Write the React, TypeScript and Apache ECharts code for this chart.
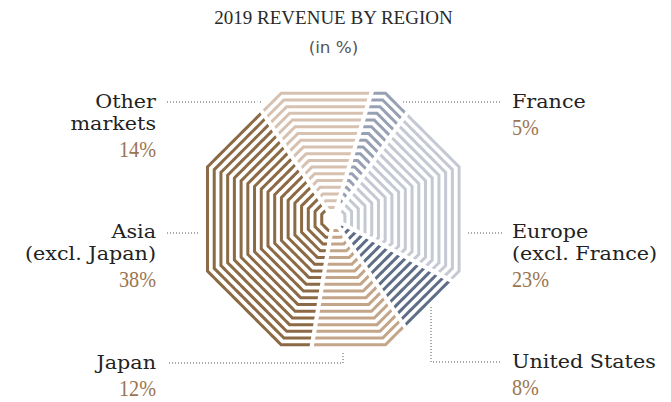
import React, { useEffect, useRef } from "react";
import * as echarts from "echarts";

// ---- data ----
const regionNames = [
  "Other markets",
  "France",
  "Europe (excl. France)",
  "United States",
  "Japan",
  "Asia (excl. Japan)",
];
const labelLines = [
  ["Other", "markets"],
  ["France"],
  ["Europe", "(excl. France)"],
  ["United States"],
  ["Japan"],
  ["Asia", "(excl. Japan)"],
];
const shares = [14, 5, 23, 8, 12, 38];
const titleText = "2019 REVENUE BY REGION";
const subtitleText = "(in %)";

// ---- styles / layout ----
const colors = ["#d7c2b1", "#98a1b4", "#c5c9d4", "#5f6e87", "#c3a589", "#8b6a45"];
const pctColor = "#9b7651";
const textColor = "#222222";
const CENTER = [333.3, 219];
const OUTER = 125.8;
const STEP = 6.72;
const RINGS = 18;
const STRIPE_W = 3;
const GAP_W = 4.2;

const labelLayout = [
  { x: 156, align: "right", y: 102 },
  { x: 512, align: "left", y: 102 },
  { x: 512, align: "left", y: 232 },
  { x: 512, align: "left", y: 362 },
  { x: 156, align: "right", y: 363 },
  { x: 156, align: "right", y: 232 },
];
const leaderLines = [
  [[167, 102], [262, 102]],
  [[403, 102], [502, 102]],
  [[468, 233], [502, 233]],
  [[431, 307], [431, 362], [502, 362]],
  [[343, 353], [343, 363], [167, 363]],
  [[167, 233], [198, 233]],
];

const starts: number[] = [];
shares.reduce((acc, v) => {
  starts.push(acc);
  return acc + v;
}, 0);

const COS225 = Math.cos(Math.PI / 8);

function octPoint(c: number[], d: number[], A: number) {
  const ax = Math.abs(d[0]);
  const ay = Math.abs(d[1]);
  const m = Math.max(ax, ay, (ax + ay) / Math.SQRT2);
  const r = A / m;
  return [c[0] + r * d[0], c[1] + r * d[1]];
}
function faceOf(d: number[]) {
  let best = -Infinity;
  let bi = 0;
  for (let i = 0; i < 8; i++) {
    const a = (i * Math.PI) / 4;
    const dot = d[0] * Math.cos(a) + d[1] * Math.sin(a);
    if (dot > best) {
      best = dot;
      bi = i;
    }
  }
  return bi;
}

function textEl(text: string, x: number, y: number, align: string, family: string, size: number, fill: string, sx: number) {
  return {
    type: "text",
    x,
    y,
    scaleX: sx,
    style: {
      text,
      x: 0,
      y: 0,
      align,
      verticalAlign: "middle",
      fontFamily: family,
      fontSize: size,
      fill,
    },
  };
}

export default function App() {
  const ref = useRef<HTMLDivElement>(null);
  useEffect(() => {
    if (!ref.current) return;
    const chart = echarts.init(ref.current, null, { renderer: "svg" });

    const dirOf = (api: any, v: number) => {
      const c = api.coord([0, v]);
      const p = api.coord([100, v]);
      const dx = p[0] - c[0];
      const dy = p[1] - c[1];
      const L = Math.hypot(dx, dy);
      return [dx / L, dy / L];
    };

    const stripePoints = (api: any, c: number[], v0: number, v1: number, A: number) => {
      const pts: number[][] = [];
      const n = Math.max(2, Math.ceil((v1 - v0) / 0.5));
      let prevFace = -1;
      for (let i = 0; i <= n; i++) {
        const v = v0 + ((v1 - v0) * i) / n;
        const d = dirOf(api, v);
        const f = faceOf(d);
        if (prevFace >= 0 && f !== prevFace) {
          let a1 = prevFace * 45;
          let a2 = f * 45;
          if (Math.abs(a2 - a1) > 180) {
            if (a1 < a2) a1 += 360;
            else a2 += 360;
          }
          const mid = (((a1 + a2) / 2) * Math.PI) / 180;
          const R = A / COS225;
          pts.push([c[0] + R * Math.cos(mid), c[1] + R * Math.sin(mid)]);
        }
        prevFace = f;
        pts.push(octPoint(c, d, A));
      }
      return pts;
    };

    const graphics: any[] = [];
    graphics.push(textEl(titleText, 333.5, 17, "center", "Liberation Serif", 19, "#2a2a2a", 1));
    graphics.push(textEl(subtitleText, 333.5, 48, "center", "DejaVu Sans", 15, "#555555", 1.12));
    labelLines.forEach((lines, i) => {
      const lay = labelLayout[i];
      lines.forEach((t, j) => {
        graphics.push(textEl(t, lay.x, lay.y + j * 22, lay.align, "DejaVu Serif", 19, textColor, 1.09));
      });
      graphics.push(
        textEl(shares[i] + "%", lay.x, lay.y + (lines.length - 1) * 22 + 26, lay.align, "Liberation Serif", 23, pctColor, 0.88)
      );
      graphics.push({
        type: "polyline",
        shape: { points: leaderLines[i] },
        style: { stroke: "#555555", lineWidth: 1, lineDash: [1, 2], fill: null },
      });
    });

    chart.setOption({
      animation: false,
      backgroundColor: "#ffffff",
      polar: { center: CENTER, radius: 140 },
      angleAxis: {
        type: "value",
        min: 0,
        max: 100,
        startAngle: 90 + 33.6,
        clockwise: true,
        show: false,
      },
      radiusAxis: { type: "value", min: 0, max: 140, show: false },
      graphic: graphics,
      series: [
        {
          type: "custom",
          name: "Revenue",
          coordinateSystem: "polar",
          data: shares.map((v, i) => [starts[i], v, regionNames[i]]),
          renderItem: (params: any, api: any) => {
            const v0 = api.value(0);
            const v1 = v0 + api.value(1);
            const c = api.coord([0, 0]);
            const children: any[] = [];
            for (let k = 0; k < RINGS; k++) {
              const A = OUTER - k * STEP;
              children.push({
                type: "polyline",
                shape: { points: stripePoints(api, c, v0, v1, A) },
                style: {
                  stroke: colors[params.dataIndex],
                  lineWidth: STRIPE_W,
                  fill: null,
                  lineJoin: "miter",
                  lineCap: "butt",
                },
              });
            }
            return { type: "group", children };
          },
          z: 2,
        },
        {
          type: "custom",
          name: "gaps",
          coordinateSystem: "polar",
          data: starts.map((s) => [s]),
          renderItem: (params: any, api: any) => {
            const c = api.coord([0, 0]);
            const p = api.coord([140, api.value(0)]);
            return {
              type: "line",
              shape: { x1: c[0], y1: c[1], x2: p[0], y2: p[1] },
              style: { stroke: "#ffffff", lineWidth: GAP_W },
            };
          },
          z: 3,
        },
      ],
    });
    return () => chart.dispose();
  }, []);
  return (
    <div
      ref={ref}
      style={{ position: "fixed", left: 0, top: 0, width: 671, height: 402, background: "#fff" }}
    />
  );
}
